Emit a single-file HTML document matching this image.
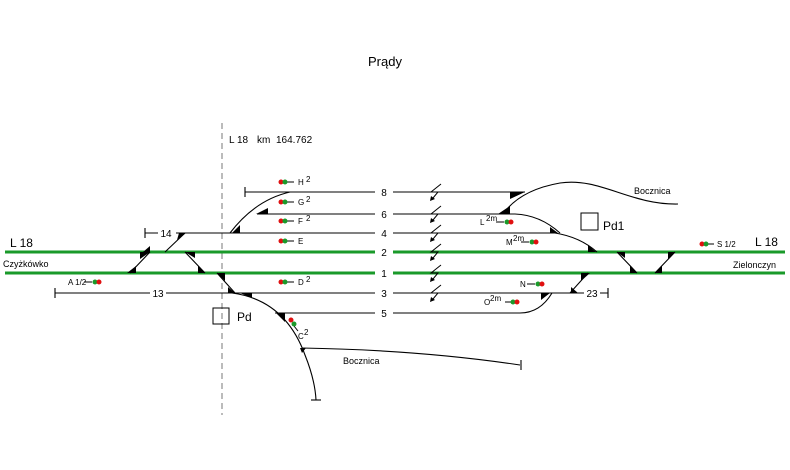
<!DOCTYPE html>
<html><head><meta charset="utf-8"><style>
body{margin:0;background:#fff}
svg text{font-family:"Liberation Sans",sans-serif;fill:#000}
</style></head><body>
<svg width="790" height="465" viewBox="0 0 790 465" xmlns="http://www.w3.org/2000/svg">
<defs>
<g id="zz"><path d="M441,-8 L431,0 L438,0 L433,6" fill="none" stroke="#000" stroke-width="1"/><path d="M430,9 L431,4 L435,7 Z" fill="#000"/></g>
</defs>
<text x="368" y="66" font-size="13">Prądy</text>
<line x1="222" y1="123" x2="222" y2="415" stroke="#777" stroke-dasharray="6,4" stroke-width="1"/>
<text x="229" y="143" font-size="10">L 18</text><text x="257" y="143" font-size="10">km</text><text x="276" y="143" font-size="10">164.762</text>
<!-- green mains -->
<line x1="5" y1="252" x2="375" y2="252" stroke="#1a9a2a" stroke-width="3"/>
<line x1="393" y1="252" x2="785" y2="252" stroke="#1a9a2a" stroke-width="3"/>
<line x1="5" y1="273" x2="375" y2="273" stroke="#1a9a2a" stroke-width="3"/>
<line x1="393" y1="273" x2="785" y2="273" stroke="#1a9a2a" stroke-width="3"/>
<g stroke="#000" stroke-width="1.1" fill="none">
<path d="M245,192 H375 M393,192 H525"/><path d="M245,187 V197"/>
<path d="M503,214 Q520,190 560,183 C600,177 630,205 678,204"/>
<path d="M230,233 Q255,200 290,192"/>
<path d="M257,214 H375 M393,214 H515 Q540,215 560,233"/>
<path d="M145,233 H158 M176,233 H375 M393,233 H555 Q580,237 597,252"/><path d="M145,228 V238"/>
<path d="M55,293 H150 M166,293 H375 M393,293 H570 L588,273 M570,293 H584 M600,293 H608"/><path d="M55,288 V298 M608,288 V298"/>
<path d="M275,313 H375 M393,313 H520 Q540,313 552,293"/>
<path d="M130,273 L150,252 M165,252 L185,233 M185,252 L205,273 M217,273 L235,293"/>
<path d="M617,252 L637,273 M655,273 L675,252"/>
<path d="M232,293 Q285,300 305,355 Q315,380 316,400"/><path d="M311,400 H321"/>
<path d="M302,348 Q420,350 520,365"/><path d="M521,360 V370"/>
</g>
<g fill="#000">
<path d="M510,192 L525,192 L510,199Z"/>
<path d="M498,214 L510,214 L510,206Z"/>
<path d="M256,214 L268,214 L268,208Z"/>
<path d="M232,233 L240,233 L240,225Z"/>
<path d="M179,233 L186,233 L177,240Z"/>
<path d="M143,252 L150,252 L150,246Z"/>
<path d="M140,252 L150,252 L140,259Z"/>
<path d="M127,273 L136,273 L136,266Z"/>
<path d="M185,252 L195,252 L195,258Z"/>
<path d="M198,266 L205,273 L198,273Z"/>
<path d="M217,273 L225,273 L225,281Z"/>
<path d="M228,287 L235,293 L228,293Z"/>
<path d="M240,293 L252,293 L252,298Z"/>
<path d="M276,313 L285,313 L285,322Z"/>
<path d="M300,348 L306,348 L302,353Z"/>
<path d="M550,227 L558,233 L550,233Z"/>
<path d="M588,245 L596,252 L588,252Z"/>
<path d="M617,252 L625,252 L625,258Z"/>
<path d="M630,266 L637,273 L630,273Z"/>
<path d="M655,273 L662,273 L662,266Z"/>
<path d="M668,252 L675,252 L668,259Z"/>
<path d="M581,273 L590,273 L581,281Z"/>
<path d="M571,287 L571,293 L578,293Z"/>
<path d="M541,293 L550,293 L541,300Z"/>
</g>
<use href="#zz" y="192"/><use href="#zz" y="214"/><use href="#zz" y="233"/><use href="#zz" y="252"/><use href="#zz" y="273"/><use href="#zz" y="293"/>
<g font-size="10" text-anchor="middle">
<text x="384" y="196">8</text><text x="384" y="218">6</text><text x="384" y="237">4</text><text x="384" y="256">2</text><text x="384" y="277">1</text><text x="384" y="297">3</text><text x="384" y="317">5</text>
<text x="166" y="237">14</text><text x="158" y="297">13</text><text x="592" y="297">23</text>
</g>
<g stroke="#000" stroke-width="1">
<line x1="286" y1="182" x2="294" y2="182"/><line x1="286" y1="202" x2="294" y2="202"/><line x1="286" y1="221" x2="294" y2="221"/><line x1="286" y1="241" x2="294" y2="241"/><line x1="286" y1="282" x2="294" y2="282"/>
<line x1="84" y1="282" x2="92" y2="282"/><line x1="496" y1="222" x2="504" y2="222"/><line x1="521" y1="242" x2="529" y2="242"/><line x1="527" y1="284" x2="535" y2="284"/><line x1="505" y1="302" x2="513" y2="302"/><line x1="708" y1="244" x2="714" y2="244"/><line x1="294" y1="326" x2="298" y2="331"/>
</g>
<g>
<circle cx="281" cy="182" r="2.5" fill="#e01010"/><circle cx="285" cy="182" r="2.5" fill="#1a9a2a"/>
<circle cx="281" cy="202" r="2.5" fill="#e01010"/><circle cx="285" cy="202" r="2.5" fill="#1a9a2a"/>
<circle cx="281" cy="221" r="2.5" fill="#e01010"/><circle cx="285" cy="221" r="2.5" fill="#1a9a2a"/>
<circle cx="281" cy="241" r="2.5" fill="#e01010"/><circle cx="285" cy="241" r="2.5" fill="#1a9a2a"/>
<circle cx="281" cy="282" r="2.5" fill="#e01010"/><circle cx="285" cy="282" r="2.5" fill="#1a9a2a"/>
<circle cx="95" cy="282" r="2.5" fill="#1a9a2a"/><circle cx="99" cy="282" r="2.5" fill="#e01010"/>
<circle cx="507" cy="222" r="2.5" fill="#1a9a2a"/><circle cx="511" cy="222" r="2.5" fill="#e01010"/>
<circle cx="532" cy="242" r="2.5" fill="#1a9a2a"/><circle cx="536" cy="242" r="2.5" fill="#e01010"/>
<circle cx="538" cy="284" r="2.5" fill="#1a9a2a"/><circle cx="542" cy="284" r="2.5" fill="#e01010"/>
<circle cx="513" cy="302" r="2.5" fill="#1a9a2a"/><circle cx="517" cy="302" r="2.5" fill="#e01010"/>
<circle cx="702" cy="244" r="2.5" fill="#e01010"/><circle cx="706" cy="244" r="2.5" fill="#1a9a2a"/>
<circle cx="291" cy="320" r="2.5" fill="#e01010"/><circle cx="294" cy="324" r="2.5" fill="#1a9a2a"/>
</g>
<g font-size="8">
<text x="298" y="185">H</text><text x="306" y="182">2</text>
<text x="298" y="205">G</text><text x="306" y="202">2</text>
<text x="298" y="224">F</text><text x="306" y="221">2</text>
<text x="298" y="244">E</text>
<text x="298" y="285">D</text><text x="306" y="282">2</text>
<text x="68" y="285">A 1/2</text>
<text x="480" y="225">L</text><text x="486" y="221">2m</text>
<text x="506" y="245">M</text><text x="513" y="241">2m</text>
<text x="520" y="287">N</text>
<text x="484" y="305">O</text><text x="490" y="301">2m</text>
<text x="717" y="247">S 1/2</text>
<text x="298" y="339">C</text><text x="304" y="335">2</text>
</g>
<g font-size="9">
<text x="634" y="194">Bocznica</text>
<text x="343" y="364">Bocznica</text>
<text x="3" y="267">Czyżkówko</text>
<text x="733" y="268">Zielonczyn</text>
</g>
<text x="10" y="247" font-size="12">L 18</text>
<text x="755" y="246" font-size="12">L 18</text>
<rect x="213" y="308" width="16" height="16" fill="none" stroke="#000"/>
<text x="237" y="321" font-size="12">Pd</text>
<rect x="581" y="213" width="17" height="17" fill="none" stroke="#000"/>
<text x="603" y="230" font-size="12">Pd1</text>
</svg>
</body></html>
